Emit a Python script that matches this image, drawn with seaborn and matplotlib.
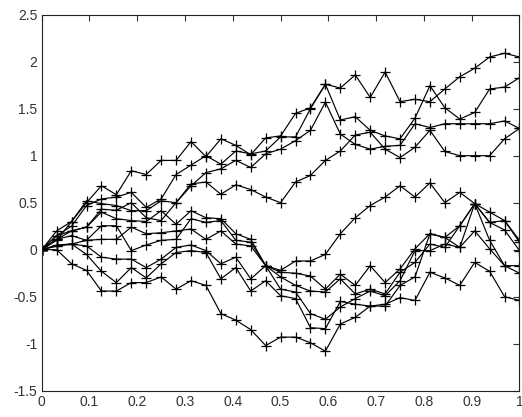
import numpy as np
import pandas as pd
import matplotlib
matplotlib.use("Agg")
import matplotlib.pyplot as plt
import seaborn as sns

# time grid: 32 steps on [0, 1]
t = np.linspace(0, 1, 33)

# ten sample paths
path_u1 = [0, 0.10, 0.30, 0.50, 0.68, 0.585, 0.84, 0.80, 0.95, 0.95, 1.15, 0.99, 1.18, 1.11, 1.01, 1.19, 1.21,
           1.45, 1.51, 1.76, 1.72, 1.86, 1.62, 1.89, 1.575, 1.60, 1.575, 1.71, 1.84, 1.93, 2.05, 2.09, 2.05]
path_u2 = [0, 0.15, 0.25, 0.47, 0.54, 0.56, 0.61, 0.45, 0.54, 0.80, 0.90, 1.00, 0.91, 1.05, 1.02, 1.05, 1.20,
           1.20, 1.50, 1.76, 1.38, 1.415, 1.27, 1.21, 1.18, 1.40, 1.745, 1.51, 1.39, 1.46, 1.71, 1.73, 1.83]
path_u3 = [0, 0.20, 0.30, 0.52, 0.49, 0.47, 0.415, 0.415, 0.52, 0.50, 0.68, 0.82, 0.86, 0.95, 0.875, 1.02, 1.07,
           1.16, 1.27, 1.57, 1.23, 1.12, 1.07, 1.10, 1.11, 1.34, 1.30, 1.34, 1.34, 1.34, 1.34, 1.37, 1.29]
path_u4 = [0, 0.11, 0.20, 0.24, 0.43, 0.42, 0.50, 0.34, 0.31, 0.50, 0.70, 0.72, 0.59, 0.69, 0.64, 0.56, 0.50,
           0.72, 0.79, 0.95, 1.05, 1.22, 1.25, 1.07, 0.98, 1.09, 1.27, 1.045, 1.00, 1.00, 1.00, 1.18, 1.29]
path_m = [0, 0.04, 0.06, 0.10, 0.11, 0.11, 0.24, 0.17, 0.18, 0.20, 0.22, 0.11, 0.20, 0.06, 0.04, -0.17, -0.22,
          -0.12, -0.12, -0.05, 0.17, 0.34, 0.47, 0.56, 0.68, 0.56, 0.71, 0.50, 0.61, 0.49, 0.40, 0.31, 0.10]
path_l2 = [0, 0.00, -0.15, -0.22, -0.44, -0.44, -0.35, -0.35, -0.29, -0.42, -0.33, -0.38, -0.68, -0.75, -0.85,
           -1.02, -0.93, -0.93, -0.99, -1.08, -0.79, -0.72, -0.60, -0.58, -0.51, -0.54, -0.24, -0.30, -0.38,
           -0.135, -0.23, -0.50, -0.54]
path_l3 = [0, 0.15, 0.20, 0.24, 0.40, 0.33, 0.31, 0.30, 0.415, 0.27, 0.415, 0.34, 0.33, 0.17, 0.11, -0.17, -0.24,
           -0.25, -0.28, -0.42, -0.26, -0.38, -0.17, -0.35, -0.205, 0.01, 0.17, 0.13, 0.255, 0.49, 0.29, 0.21, -0.01]
path_l4 = [0, 0.11, 0.15, 0.10, 0.255, 0.255, -0.01, 0.05, 0.10, 0.11, 0.33, 0.29, 0.31, 0.10, 0.08, -0.17, -0.29,
           -0.38, -0.44, -0.45, -0.31, -0.47, -0.42, -0.47, -0.24, -0.135, 0.06, 0.025, 0.255, 0.49, 0.10, -0.17,
           -0.17]
path_l5 = [0, 0.04, 0.06, 0.04, -0.08, -0.10, -0.10, -0.19, -0.10, 0.025, 0.05, -0.01, -0.15, -0.08, -0.31, -0.17,
           -0.42, -0.45, -0.68, -0.74, -0.61, -0.52, -0.44, -0.49, -0.33, -0.01, -0.01, 0.06, 0.025, 0.20, 0.01,
           -0.17, -0.25]
path_l6 = [0, 0.05, 0.06, -0.05, -0.23, -0.35, -0.19, -0.30, -0.15, -0.03, -0.01, -0.03, -0.31, -0.19, -0.44,
           -0.33, -0.49, -0.52, -0.83, -0.84, -0.55, -0.58, -0.60, -0.60, -0.38, -0.29, 0.17, 0.13, 0.025, 0.49,
           0.29, 0.31, 0.08]

paths = [path_u1, path_u2, path_u3, path_u4, path_m, path_l2, path_l3, path_l4, path_l5, path_l6]

x_ticks = [0, 0.1, 0.2, 0.3, 0.4, 0.5, 0.6, 0.7, 0.8, 0.9, 1]
x_tick_labels = ["0", "0.1", "0.2", "0.3", "0.4", "0.5", "0.6", "0.7", "0.8", "0.9", "1"]
y_ticks = [-1.5, -1, -0.5, 0, 0.5, 1, 1.5, 2, 2.5]
y_tick_labels = ["-1.5", "-1", "-0.5", "0", "0.5", "1", "1.5", "2", "2.5"]

df = pd.DataFrame({
    "t": np.tile(t, len(paths)),
    "value": np.concatenate([np.asarray(p, dtype=float) for p in paths]),
    "path": np.repeat(np.arange(len(paths)), len(t)),
})

sns.set_theme(style="white")
plt.rcParams["font.family"] = ["Liberation Sans", "DejaVu Sans"]
plt.rcParams["xtick.direction"] = "in"
plt.rcParams["ytick.direction"] = "in"

fig = plt.figure(figsize=(5.22, 4.17), dpi=100)
ax = fig.add_axes([0.0799, 0.0631, 0.9153, 0.9016])

sns.lineplot(data=df, x="t", y="value", units="path", estimator=None, sort=False,
             color="black", linewidth=0.85, marker="+", markersize=7.5,
             markeredgewidth=0.9, markeredgecolor="black", ax=ax, legend=False)

ax.set_xlim(0, 1)
ax.set_ylim(-1.5, 2.5)
ax.set_xticks(x_ticks)
ax.set_xticklabels(x_tick_labels)
ax.set_yticks(y_ticks)
ax.set_yticklabels(y_tick_labels)
ax.set_xlabel("")
ax.set_ylabel("")
ax.tick_params(axis="both", which="both", direction="in", length=4.5, width=0.8,
               top=True, right=True, labelsize=10, colors="#333333", pad=3)
for side in ax.spines.values():
    side.set_color("#222222")
    side.set_linewidth(0.8)

fig.savefig("out.png", dpi=100)
